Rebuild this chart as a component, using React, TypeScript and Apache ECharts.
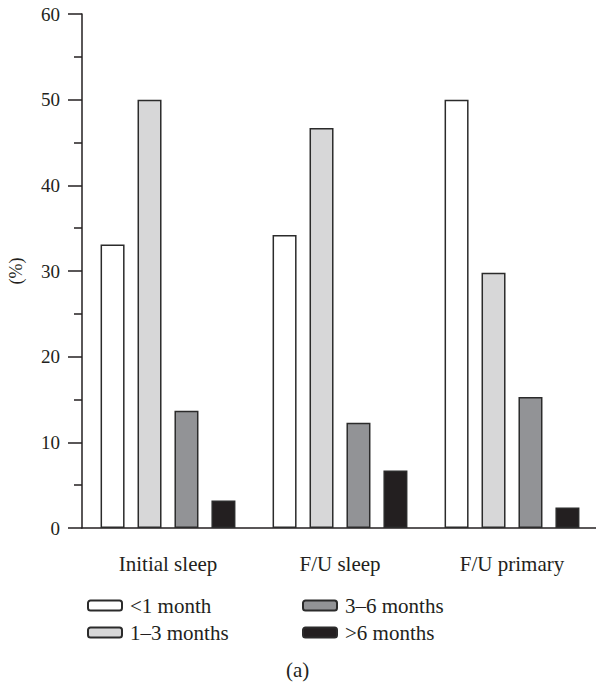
import React, { useEffect, useRef } from "react";
import * as echarts from "echarts";

const categories = ["Initial sleep", "F/U sleep", "F/U primary"];
const seriesNames = ["<1 month", "1–3 months", "3–6 months", ">6 months"];
const lessThan1Month = [33.1, 34.2, 50.0];
const oneTo3Months = [50.0, 46.7, 29.8];
const threeTo6Months = [13.7, 12.3, 15.3];
const moreThan6Months = [3.2, 6.7, 2.4];
const seriesValues = [lessThan1Month, oneTo3Months, threeTo6Months, moreThan6Months];
const seriesColors = ["#ffffff", "#d7d7d8", "#929396", "#231f20"];

const FONT = "Liberation Serif";

export default function App() {
  const ref = useRef<HTMLDivElement>(null);
  useEffect(() => {
    if (!ref.current) return;
    const chart = echarts.init(ref.current, null, { renderer: "svg" });
    const axisColor = "#231f20";
    const legendCommon = {
      orient: "vertical",
      top: 590,
      itemWidth: 34,
      itemHeight: 10,
      itemGap: 6,
      icon: "roundRect",
      textStyle: { fontFamily: FONT, fontSize: 21, color: "#231f20", padding: [0, 0, 0, 3] },
    };
    chart.setOption({
      animation: false,
      backgroundColor: "#ffffff",
      textStyle: { fontFamily: FONT, color: "#231f20" },
      grid: {
        left: 82,
        top: 14,
        width: 516,
        height: 514,
        outerBoundsMode: "none",
        containLabel: false,
      },
      legend: [
        { ...legendCommon, data: seriesNames.slice(0, 2), left: 82 },
        { ...legendCommon, data: seriesNames.slice(2, 4), left: 297 },
      ],
      xAxis: {
        type: "category",
        data: categories,
        axisLine: { lineStyle: { color: axisColor, width: 1.5 } },
        axisTick: { alignWithLabel: true, length: 14, lineStyle: { color: axisColor, width: 1.5 } },
        axisLabel: { fontFamily: FONT, fontSize: 21, color: "#231f20", margin: 25 },
        splitLine: { show: false },
      },
      yAxis: {
        type: "value",
        min: 0,
        max: 60,
        interval: 10,
        name: "(%)",
        nameLocation: "middle",
        nameGap: 57,
        nameRotate: 90,
        nameTextStyle: { fontFamily: FONT, fontSize: 18, color: "#231f20" },
        axisLine: { show: true, lineStyle: { color: axisColor, width: 1.5 } },
        axisTick: { show: true, length: 14, lineStyle: { color: axisColor, width: 1.5 } },
        minorTick: { show: true, splitNumber: 2, length: 8, lineStyle: { color: axisColor, width: 1.5 } },
        axisLabel: { fontFamily: FONT, fontSize: 19, color: "#231f20", margin: 22 },
        splitLine: { show: false },
      },
      series: seriesNames.map((name, i) => ({
        name,
        type: "bar",
        data: seriesValues[i],
        barWidth: 24,
        barGap: "54%",
        itemStyle: { color: seriesColors[i], borderColor: "#2b2b2b", borderWidth: 1.5 },
      })),
      graphic: [
        {
          type: "text",
          left: 286,
          top: 659,
          style: { text: "(a)", font: `21px "${FONT}"`, fill: "#231f20" },
        },
      ],
    });
    return () => chart.dispose();
  }, []);
  return (
    <div
      ref={ref}
      style={{ position: "absolute", left: 0, top: 0, width: 596, height: 684, overflow: "hidden" }}
    />
  );
}
